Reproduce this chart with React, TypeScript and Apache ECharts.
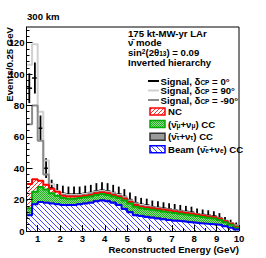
import React, { useEffect, useRef } from "react";
import * as echarts from "echarts";

// ---- data (events per 0.25 GeV bin, bins start at 0.5 GeV) ----
const firstEdge = 0.5;
const binWidth = 0.25;

const beamCC = [10, 17, 18.5, 18, 17.5, 17, 16.5, 16.5, 16.5, 17, 17.5, 18, 19, 19.5, 19, 18, 16.5, 14, 12, 10, 9.5, 9, 8.5, 8, 7.5, 7, 6.5, 6.2, 5.8, 5.4, 5, 4.7, 4.4, 4.1, 3.8, 3, 2, 1];
const tauCC = [0.1, 0.2, 0.3, 0.3, 0.3, 0.3, 0.3, 0.3, 0.4, 0.4, 0.4, 0.4, 0.5, 0.5, 0.5, 0.5, 0.5, 0.5, 0.5, 0.5, 0.5, 0.5, 0.5, 0.5, 0.5, 0.4, 0.4, 0.4, 0.4, 0.4, 0.4, 0.3, 0.3, 0.3, 0.3, 0.3, 0.2, 0.2];
const numuCC = [4.4, 7.8, 9.2, 8.2, 6.2, 5.2, 4.2, 3.7, 3.6, 3.6, 3.6, 3.6, 3.5, 3.5, 3.5, 3.5, 4.0, 5.0, 5.0, 5.0, 4.5, 4.5, 4.5, 4.5, 4.5, 4.6, 4.6, 4.4, 4.3, 4.2, 4.1, 4.0, 3.8, 3.6, 2.9, 2.2, 1.8, 0.8];
const ncBkg = [15.5, 8, 4, 3, 3, 2.5, 1.5, 1.5, 1.5, 1, 1, 1, 1, 1, 1, 1, 1, 1, 1, 1, 1, 1, 1, 1, 1, 1, 1, 1, 1, 1, 0.8, 0.8, 0.8, 0.8, 0.8, 0.7, 0.6, 0.5];

// signal + background totals
const totalDcp0 = [91, 97.5, 65.5, 40, 27.5, 25, 24, 23.5, 23.5, 23.5, 24, 24.5, 25.5, 26, 25.5, 24.5, 23.5, 22, 20, 18, 17, 16.5, 15.5, 15, 14.5, 14, 13.5, 13, 12.5, 12, 11, 10.5, 10, 9.5, 8.5, 6.5, 5, 3.5];
const errDcp0 = [9.5, 9.9, 8.1, 6.3, 5.2, 5, 4.9, 4.8, 4.8, 4.8, 4.9, 4.9, 5, 5.1, 5, 4.9, 4.8, 4.7, 4.5, 4.2, 4.1, 4.1, 3.9, 3.9, 3.8, 3.7, 3.7, 3.6, 3.5, 3.5, 3.3, 3.2, 3.2, 3.1, 2.9, 2.5, 2.2, 1.9];
const totalDcp90 = [106, 119, 76, 45, 30, 25.5, 23.5, 23, 23, 23, 23.5, 24, 25, 25.5, 25, 24, 23, 21.5, 19.5, 17.5, 16.5, 16, 15, 14.5, 14, 13.5, 13, 12.5, 12, 11.5, 10.5, 10, 9.5, 9, 8, 6.5, 5, 3.5];
const totalDcpM90 = [68, 80, 57.5, 36, 26, 24, 23, 22.5, 22.5, 22.5, 23, 23.5, 24.5, 25, 24.5, 23.5, 22.5, 21, 19, 17, 16, 15.5, 15, 14.5, 14, 13.5, 13, 12.5, 12, 11.5, 10.5, 10, 9.5, 9, 8, 6.5, 5, 3.5];

const xTickLabels = [1, 2, 3, 4, 5, 6, 7, 8, 9, 10];
const yTickLabels = [0, 20, 40, 60, 80, 100, 120];

const FONT = "'Liberation Sans', Arial, Helvetica, sans-serif";
const FS = 9.6;

function makePattern(kind: string) {
  const size = kind === "green" ? 2 : kind === "blue" ? 5 : 4;
  const c = document.createElement("canvas");
  c.width = size;
  c.height = size;
  const ctx = c.getContext("2d")!;
  ctx.fillStyle = "#ffffff";
  ctx.fillRect(0, 0, size, size);
  if (kind === "blue") {
    ctx.fillStyle = "#4646ff";
    for (let i = 0; i < size; i++) ctx.fillRect(i, i, 1, 1);
  } else if (kind === "red") {
    ctx.fillStyle = "#ff3030";
    for (let i = 0; i < size; i++) ctx.fillRect(i, size - 1 - i, 1, 1);
  } else if (kind === "green") {
    ctx.fillStyle = "#22b022";
    ctx.fillRect(0, 0, 2, 2);
    ctx.fillStyle = "#8fdc8f";
    ctx.fillRect(1, 0, 1, 1);
    ctx.fillRect(0, 1, 1, 1);
  }
  return { image: c, repeat: "repeat", imageWidth: size, imageHeight: size } as any;
}

export default function App() {
  const ref = useRef<HTMLDivElement>(null);
  useEffect(() => {
    const el = ref.current!;
    const chart = echarts.init(el, undefined, { renderer: "svg" });
    const blueP = makePattern("blue");
    const redP = makePattern("red");
    const greenP = makePattern("green");

    const n = beamCC.length;
    const edges = beamCC.map((_, i) => firstEdge + i * binWidth);
    const lastEdge = firstEdge + n * binWidth;
    const stepData = (vals: number[]) => [
      ...vals.map((v, i) => [edges[i], v]),
      [lastEdge, vals[vals.length - 1]],
    ];
    // cumulative stack table (beam, +tau, +numu, +nc)
    const cumBeam = beamCC.slice();
    const cumTau = cumBeam.map((v, i) => v + tauCC[i]);
    const cumNumu = cumTau.map((v, i) => v + numuCC[i]);
    const cumNC = cumNumu.map((v, i) => v + ncBkg[i]);
    const errData = totalDcp0.map((v, i) => [edges[i], edges[i] + binWidth, v, errDcp0[i]]);

    const minorX: number[] = [];
    for (let v = 0.5; v <= 10.001; v += 0.5) minorX.push(+v.toFixed(2));
    const minorY: number[] = [];
    for (let v = 0; v <= 128; v += 4) minorY.push(v);

    const txt = { fontFamily: FONT, fontWeight: "bold", fontSize: FS, fill: "#000" };
    const sub = { fontFamily: FONT, fontWeight: "bold", fontSize: 6.5, verticalAlign: "bottom", lineHeight: 6, fill: "#000" };
    const sup = { fontFamily: FONT, fontWeight: "bold", fontSize: 6.5, verticalAlign: "top", lineHeight: 6, fill: "#000" };
    const mkText = (x: number, y: number, text: string, extra: any = {}) => ({
      type: "text",
      x,
      y,
      z: 20,
      style: {
        ...txt,
        text,
        lineHeight: 9,
        align: "left",
        textAlign: "left",
        verticalAlign: "middle",
        textVerticalAlign: "middle",
        rich: { sub, sup },
        ...extra,
      },
    });

    const rowSig = [81, 90.5, 100];
    const rowBox = [111.5, 124, 136.7, 149.3];

    const area = (name: string, vals: number[], color: string, width: number, fill: any) => ({
      type: "line", name, step: "end", data: stepData(vals), symbol: "none",
      lineStyle: { color, width }, areaStyle: { color: fill, opacity: 1, origin: "start" }, z: 3,
    });

    const option: any = {
      animation: false,
      backgroundColor: "#ffffff",
      grid: { left: 26.5, right: 27, top: 27, bottom: 27, show: true, borderColor: "#000", borderWidth: 1, backgroundColor: "#fff", containLabel: false, outerBoundsMode: "none" },
      xAxis: [
        {
          type: "value", min: 0.5, max: 10, z: 5,
          axisLine: { show: true, lineStyle: { color: "#000", width: 1 } },
          axisTick: { show: true, inside: true, length: 6, customValues: xTickLabels, lineStyle: { color: "#000", width: 1 } },
          axisLabel: { customValues: xTickLabels, color: "#000", fontFamily: FONT, fontWeight: "bold", fontSize: FS, margin: 2 },
          splitLine: { show: false },
        },
        {
          type: "value", min: 0.5, max: 10, z: 5, position: "bottom",
          axisLine: { show: false },
          axisTick: { show: true, inside: true, length: 3, customValues: minorX, lineStyle: { color: "#000", width: 1 } },
          axisLabel: { show: false },
          splitLine: { show: false },
        },
      ],
      yAxis: [
        {
          type: "value", min: 0, max: 130, z: 5,
          axisLine: { show: true, lineStyle: { color: "#000", width: 1 } },
          axisTick: { show: true, inside: true, length: 6, customValues: yTickLabels, lineStyle: { color: "#000", width: 1 } },
          axisLabel: { customValues: yTickLabels, color: "#000", fontFamily: FONT, fontWeight: "bold", fontSize: FS, margin: 2 },
          splitLine: { show: false },
        },
        {
          type: "value", min: 0, max: 130, z: 5, position: "left",
          axisLine: { show: false },
          axisTick: { show: true, inside: true, length: 3, customValues: minorY, lineStyle: { color: "#000", width: 1 } },
          axisLabel: { show: false },
          splitLine: { show: false },
        },
      ],
      series: [
        { type: "line", name: "dcp90", step: "end", data: stepData(totalDcp90), symbol: "none", lineStyle: { color: "#d0d0d0", width: 2 }, z: 2 },
        { type: "line", name: "dcpm90", step: "end", data: stepData(totalDcpM90), symbol: "none", lineStyle: { color: "#8a8a8a", width: 2 }, z: 2 },
        {
          type: "custom", name: "dcp0", data: errData, encode: { x: [0, 1], y: [2] }, z: 2,
          renderItem: (params: any, api: any) => {
            const x0 = api.value(0), x1 = api.value(1), v = api.value(2), e = api.value(3);
            const a = api.coord([x0, v]);
            const b = api.coord([x1, v]);
            const t = api.coord([(x0 + x1) / 2, v + e]);
            const u = api.coord([(x0 + x1) / 2, v - e]);
            return {
              type: "group",
              children: [
                { type: "line", shape: { x1: a[0], y1: a[1], x2: b[0], y2: b[1] }, style: { stroke: "#000", lineWidth: 1.5 } },
                { type: "line", shape: { x1: t[0], y1: t[1], x2: u[0], y2: u[1] }, style: { stroke: "#000", lineWidth: 1.8 } },
              ],
            };
          },
        },
        area("nc", cumNC, "#ff0000", 2, redP),
        area("numu", cumNumu, "#00aa00", 2, greenP),
        area("tau", cumTau, "#444444", 1, "#9a9a9a"),
        area("beam", cumBeam, "#0000ff", 2, blueP),
      ],
      graphic: [
        mkText(27, 16.5, "300 km"),
        mkText(128, 33, "175 kt-MW-yr LAr"),
        mkText(128, 42.5, "ν̄ mode"),
        mkText(128, 52.3, "sin{sup|2}(2θ{sub|13}) = 0.09"),
        mkText(128, 62, "Inverted hierarchy"),
        { type: "line", z: 20, shape: { x1: 148, y1: rowSig[0], x2: 159, y2: rowSig[0] }, style: { stroke: "#000", lineWidth: 2 } },
        { type: "line", z: 20, shape: { x1: 148, y1: rowSig[1], x2: 159, y2: rowSig[1] }, style: { stroke: "#d0d0d0", lineWidth: 2 } },
        { type: "line", z: 20, shape: { x1: 148, y1: rowSig[2], x2: 159, y2: rowSig[2] }, style: { stroke: "#8a8a8a", lineWidth: 2 } },
        mkText(160.5, rowSig[0], "Signal, δ{sub|CP} = 0°"),
        mkText(160.5, rowSig[1], "Signal, δ{sub|CP} = 90°"),
        mkText(160.5, rowSig[2], "Signal, δ{sub|CP} = -90°"),
        { type: "rect", z: 20, shape: { x: 150, y: rowBox[0] - 3.5, width: 15, height: 7 }, style: { fill: redP, stroke: "#ff0000", lineWidth: 1.5 } },
        { type: "rect", z: 20, shape: { x: 150, y: rowBox[1] - 3.5, width: 15, height: 7 }, style: { fill: greenP, stroke: "#00aa00", lineWidth: 1.5 } },
        { type: "rect", z: 20, shape: { x: 150, y: rowBox[2] - 3.5, width: 15, height: 7 }, style: { fill: "#9a9a9a", stroke: "#333", lineWidth: 1.5 } },
        { type: "rect", z: 20, shape: { x: 150, y: rowBox[3] - 3.5, width: 15, height: 7 }, style: { fill: blueP, stroke: "#0000ff", lineWidth: 1.5 } },
        mkText(168, rowBox[0], "NC"),
        mkText(168, rowBox[1], "(ν̄{sub|μ}+ν{sub|μ}) CC"),
        mkText(168, rowBox[2], "(ν̄{sub|τ}+ν{sub|τ}) CC"),
        mkText(168, rowBox[3], "Beam (ν̄{sub|e}+ν{sub|e}) CC"),
        mkText(239, 249, "Reconstructed Energy (GeV)", { align: "right", textAlign: "right" }),
        { ...mkText(9, 27, "Events/0.25 GeV", { align: "right", textAlign: "right" }), rotation: Math.PI / 2 },
      ],
    };
    chart.setOption(option);
    return () => chart.dispose();
  }, []);
  return <div ref={ref} style={{ position: "fixed", left: 0, top: 0, width: 266, height: 258, background: "#fff" }} />;
}
